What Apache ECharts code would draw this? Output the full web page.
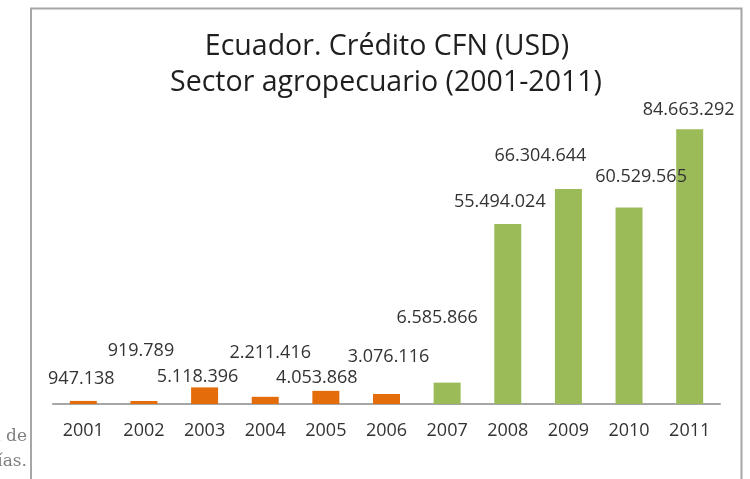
<!DOCTYPE html>
<html>
<head>
<meta charset="utf-8">
<script src="https://cdn.jsdelivr.net/npm/echarts@6/dist/echarts.min.js"></script>
<style>
  html, body { margin: 0; padding: 0; background: #fff; }
  #main { width: 750px; height: 479px; }
</style>
</head>
<body>
<div id="main"></div>
<script>
// datos del gráfico
var years = ["2001", "2002", "2003", "2004", "2005", "2006", "2007", "2008", "2009", "2010", "2011"];
var credito = [947138, 919789, 5118396, 2211416, 4053868, 3076116, 6585866, 55494024, 66304644, 60529565, 84663292];

var naranja = "#E46C0A";
var verde = "#9BBB59";

// desplazamiento de etiquetas como en el original (no alineadas)
var labelShift = [[-2, -13], [-3, -41], [-7, -2], [5, -35], [-9, -4], [2, -28],
                  [-10, -56], [-8, -13], [-28, -24], [12, -22], [-1, -10]];

function fmt(v) {
  return String(v).replace(/\B(?=(\d{3})+(?!\d))/g, ".");
}

var myChart = echarts.init(document.getElementById("main"));

var option = {
  animation: false,
  graphic: [
    // marco del gráfico
    {
      type: "polyline",
      shape: { points: [[31, 479], [31, 8.5], [741.5, 8.5], [741.5, 479]] },
      style: { stroke: "#A6A6A6", lineWidth: 2, fill: null }
    },
    {
      type: "text", x: 387, y: 47,
      style: { text: "Ecuador. Crédito CFN (USD)", font: '28.5px "Open Sans"', fill: "#1F1F1F",
               textAlign: "center", textVerticalAlign: "middle" }
    },
    {
      type: "text", x: 386, y: 83,
      style: { text: "Sector agropecuario (2001-2011)", font: '28.5px "Open Sans"', fill: "#1F1F1F",
               textAlign: "center", textVerticalAlign: "middle" }
    },
    // texto cortado a la izquierda
    {
      type: "text", x: 27, y: 437,
      style: { text: "ón de", font: '17px "DejaVu Serif"', fill: "#7F7F7F",
               textAlign: "right", textVerticalAlign: "middle" }
    },
    {
      type: "text", x: 27, y: 462,
      style: { text: "rías.", font: '17px "DejaVu Serif"', fill: "#7F7F7F",
               textAlign: "right", textVerticalAlign: "middle" }
    }
  ],
  grid: { left: 53, right: 30, top: 112, bottom: 75 },
  xAxis: {
    type: "category",
    data: years,
    axisTick: { show: false },
    axisLine: { lineStyle: { color: "#A6A6A6", width: 2 } },
    axisLabel: { color: "#333333", fontSize: 18, fontFamily: "Open Sans", margin: 18 }
  },
  yAxis: {
    type: "value",
    min: 0,
    max: 90000000,
    show: false,
    splitLine: { show: false }
  },
  series: [
    {
      type: "bar",
      barWidth: 27,
      data: credito.map(function (v, i) {
        return {
          value: v,
          itemStyle: { color: i < 6 ? naranja : verde },
          label: { offset: labelShift[i] }
        };
      }),
      label: {
        show: true,
        position: "top",
        distance: 0,
        color: "#333333",
        fontSize: 18,
        fontFamily: "Open Sans",
        formatter: function (p) { return fmt(p.value); }
      }
    }
  ]
};

myChart.setOption(option);
</script>
</body>
</html>
